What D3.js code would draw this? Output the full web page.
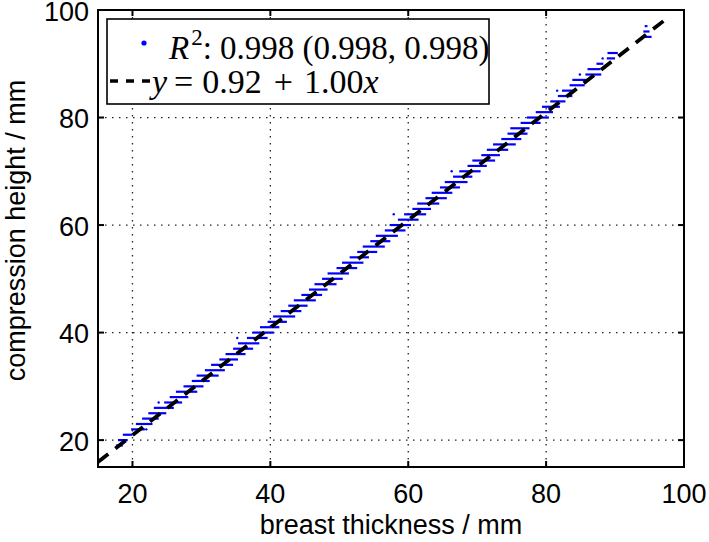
<!DOCTYPE html>
<html>
<head>
<meta charset="utf-8">
<script src="https://cdn.jsdelivr.net/npm/d3@7"></script>
<style>
  body { margin: 0; background: #fff; }
  text { fill: #000; }
</style>
</head>
<body>
<svg id="chart" width="709" height="542"></svg>
<script>
// axis ticks
const xTicks = [20, 40, 60, 80, 100];
const yTicks = [20, 40, 60, 80, 100];

// measured heights (mm) are integers; each level has a spread of thickness values
const heights = [19, 20, 21, 22, 23, 24, 25, 26, 27, 28, 29, 30, 31, 32, 33, 34, 35, 36, 37, 38,
  39, 40, 41, 42, 43, 44, 45, 46, 47, 48, 49, 50, 51, 52, 53, 54, 55, 56, 57, 58,
  59, 60, 61, 62, 63, 64, 65, 66, 67, 68, 69, 70, 71, 72, 73, 74, 75, 76, 77, 78,
  79, 80, 81, 82, 83, 84, 85, 86, 87, 88, 89, 90, 91, 92, 95, 96, 97];
const thickLo = [17.6, 17.9, 18.6, 19.8, 20.5, 21.4, 22.3, 23.1, 24.6, 25.4, 26.3, 27.4, 28.6, 29.3, 30.5, 31.4, 32.6, 33.5, 34.6, 35.3,
  36.6, 37.4, 38.5, 39.6, 40.4, 41.5, 42.6, 43.4, 44.5, 45.6, 46.4, 47.5, 48.3, 49.6, 50.4, 51.5, 52.6, 53.4, 54.5, 55.3,
  56.6, 57.3, 58.5, 59.4, 60.6, 61.3, 62.5, 63.4, 64.6, 65.3, 66.5, 67.4, 68.6, 69.3, 70.6, 71.4, 72.3, 73.5, 74.4, 74.8,
  76.3, 77.2, 78.5, 79.4, 80.6, 81.7, 82.3, 83.4, 83.8, 85.7, 86.0, 87.3, 88.8, 88.9, 94.0, 94.1, 94.3];
const thickHi = [18.6, 19.3, 20.0, 21.8, 22.9, 23.8, 24.9, 26.0, 27.2, 28.1, 29.4, 30.3, 31.2, 32.5, 33.4, 34.6, 35.3, 36.4, 37.5, 38.4,
  39.6, 40.5, 41.3, 42.4, 43.6, 44.5, 45.4, 46.6, 47.5, 48.3, 49.6, 50.5, 51.4, 52.6, 53.5, 54.3, 55.5, 56.6, 57.4, 58.5,
  59.6, 60.4, 61.5, 62.6, 63.3, 64.5, 65.6, 66.4, 67.5, 68.6, 69.3, 70.5, 71.4, 72.6, 73.3, 74.5, 75.6, 76.4, 77.3, 77.6,
  79.2, 80.4, 81.0, 82.0, 82.8, 83.8, 84.2, 85.6, 86.0, 88.0, 87.9, 88.3, 90.0, 90.4, 95.3, 95.0, 94.7];

// a few stray points away from the main bands
const strayX = [22.0, 23.8, 35.2, 57.9, 66.3, 81.6, 84.9, 88.2];
const strayY = [22, 27, 39, 62, 70, 85, 88, 91];

// fitted line y = a + b x
const fitA = 0.92;
const fitB = 1.00;
const fitX = [15, 97.6];

const svg = d3.select('#chart');
const x = d3.scaleLinear().domain([15, 100]).range([98, 684]);
const y = d3.scaleLinear().domain([15, 100]).range([467, 10]);

// dotted grid
svg.append('g')
  .selectAll('line')
  .data(xTicks.filter(t => t < 100))
  .join('line')
  .attr('x1', d => x(d)).attr('x2', d => x(d))
  .attr('y1', y(100)).attr('y2', y(15))
  .attr('stroke', '#222').attr('stroke-width', 1.3)
  .attr('stroke-dasharray', '1.5,5.5');
svg.append('g')
  .selectAll('line')
  .data(yTicks.filter(t => t < 100))
  .join('line')
  .attr('x1', x(15)).attr('x2', x(100))
  .attr('y1', d => y(d)).attr('y2', d => y(d))
  .attr('stroke', '#222').attr('stroke-width', 1.3)
  .attr('stroke-dasharray', '1.5,5.5');

// data bands
const bands = svg.append('g');
bands.selectAll('line')
  .data(heights.map((h, i) => ({ h, lo: thickLo[i], hi: thickHi[i] })))
  .join('line')
  .attr('x1', d => x(d.lo)).attr('x2', d => x(d.hi))
  .attr('y1', d => y(d.h)).attr('y2', d => y(d.h))
  .attr('stroke', '#0000ff').attr('stroke-width', 2.2);
bands.selectAll('circle')
  .data(strayX.map((v, i) => [v, strayY[i]]))
  .join('circle')
  .attr('cx', d => x(d[0])).attr('cy', d => y(d[1]))
  .attr('r', 1.2).attr('fill', '#0000ff');

// regression line
svg.append('path')
  .datum(fitX.map(v => [v, fitA + fitB * v]))
  .attr('d', d3.line().x(d => x(d[0])).y(d => y(d[1])))
  .attr('fill', 'none')
  .attr('stroke', '#000').attr('stroke-width', 3.8)
  .attr('stroke-dasharray', '13,9');

// axes box + inner ticks
const box = svg.append('g').attr('stroke', '#000').attr('stroke-width', 2);
box.append('rect')
  .attr('x', x(15)).attr('y', y(100))
  .attr('width', x(100) - x(15)).attr('height', y(15) - y(100))
  .attr('fill', 'none');
const tl = 6;
xTicks.forEach(t => {
  box.append('line').attr('x1', x(t)).attr('x2', x(t)).attr('y1', y(15)).attr('y2', y(15) - tl);
  box.append('line').attr('x1', x(t)).attr('x2', x(t)).attr('y1', y(100)).attr('y2', y(100) + tl);
});
yTicks.forEach(t => {
  box.append('line').attr('y1', y(t)).attr('y2', y(t)).attr('x1', x(15)).attr('x2', x(15) + tl);
  box.append('line').attr('y1', y(t)).attr('y2', y(t)).attr('x1', x(100)).attr('x2', x(100) - tl);
});

// tick labels
const font = 'Liberation Sans, Arial, sans-serif';
svg.append('g')
  .selectAll('text')
  .data(xTicks)
  .join('text')
  .attr('x', d => x(d)).attr('y', 503)
  .attr('text-anchor', 'middle')
  .attr('font-family', font).attr('font-size', 27)
  .text(d => d);
svg.append('g')
  .selectAll('text')
  .data(yTicks)
  .join('text')
  .attr('x', 89).attr('y', d => y(d))
  .attr('dy', '0.4em')
  .attr('text-anchor', 'end')
  .attr('font-family', font).attr('font-size', 27)
  .text(d => d);

// axis titles
svg.append('text')
  .attr('x', (x(15) + x(100)) / 2).attr('y', 534)
  .attr('text-anchor', 'middle')
  .attr('font-family', font).attr('font-size', 27)
  .text('breast thickness / mm');
svg.append('text')
  .attr('transform', `translate(25, ${(y(15) + y(100)) / 2 - 8}) rotate(-90)`)
  .attr('text-anchor', 'middle')
  .attr('font-family', font).attr('font-size', 27)
  .text('compression height / mm');

// legend
const lg = svg.append('g');
lg.append('rect')
  .attr('x', 107).attr('y', 19).attr('width', 382).attr('height', 85)
  .attr('fill', '#fff').attr('stroke', '#000').attr('stroke-width', 1.6);
lg.append('circle').attr('cx', 144).attr('cy', 43).attr('r', 2.6).attr('fill', '#0000ff');
lg.append('line')
  .attr('x1', 110).attr('x2', 151).attr('y1', 81).attr('y2', 81)
  .attr('stroke', '#000').attr('stroke-width', 3.5).attr('stroke-dasharray', '8,8');

const mathFont = 'Liberation Serif, Times New Roman, serif';
const t1 = lg.append('text')
  .attr('x', 169).attr('y', 59)
  .attr('font-family', mathFont).attr('font-size', 33);
t1.append('tspan').attr('font-style', 'italic').text('R');
t1.append('tspan').attr('font-size', 23).attr('dy', -14).attr('dx', 2).text('2');
t1.append('tspan').attr('dy', 14).text(': 0.998 (0.998, 0.998)');

const t2 = lg.append('text')
  .attr('x', 152).attr('y', 93)
  .attr('font-family', mathFont).attr('font-size', 34)
  .text('')
t2.append('tspan').attr('font-style', 'italic').text('y');
t2.append('tspan').attr('dx', 7).text('=');
t2.append('tspan').attr('dx', 9).text('0.92');
t2.append('tspan').attr('dx', 12).text('+');
t2.append('tspan').attr('dx', 11).text('1.00');
t2.append('tspan').attr('font-style', 'italic').text('x');
</script>
</body>
</html>
